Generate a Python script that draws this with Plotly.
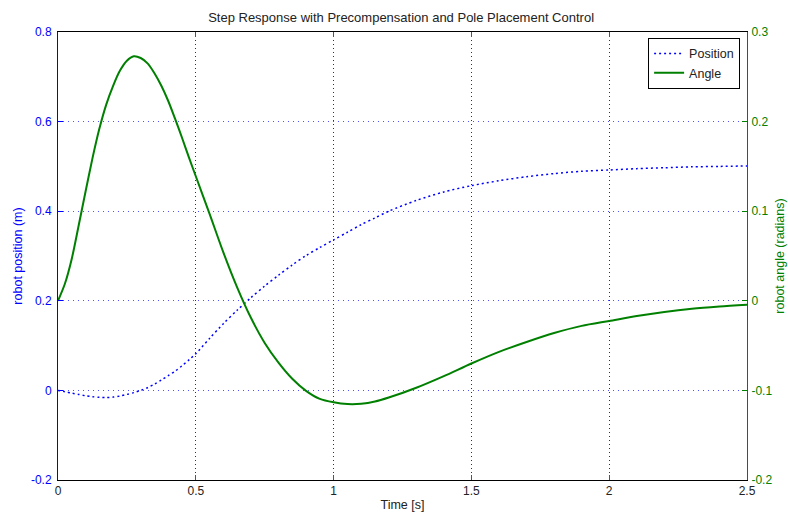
import plotly.graph_objects as go

# Time samples [s]
t = [0, 0.025, 0.05, 0.075, 0.1, 0.125, 0.15, 0.175, 0.2, 0.225, 0.25, 0.275, 0.3,
     0.325, 0.35, 0.375, 0.4, 0.425, 0.45, 0.475, 0.5, 0.55, 0.6, 0.65, 0.7, 0.75,
     0.8, 0.85, 0.9, 0.95, 1.0, 1.05, 1.1, 1.15, 1.2, 1.3, 1.4, 1.5, 1.6, 1.7, 1.8,
     1.9, 2.0, 2.1, 2.2, 2.3, 2.4, 2.5]

# Robot angle (radians), right axis
angle = [0, 0.019, 0.047, 0.084, 0.122, 0.159, 0.192, 0.219, 0.240, 0.257, 0.268,
         0.273, 0.271, 0.265, 0.254, 0.240, 0.223, 0.203, 0.182, 0.160, 0.139, 0.097,
         0.054, 0.015, -0.019, -0.047, -0.069, -0.087, -0.1005, -0.1095, -0.1133,
         -0.1153, -0.115, -0.1125, -0.108, -0.097, -0.084, -0.070, -0.057, -0.046,
         -0.036, -0.028, -0.0225, -0.017, -0.0125, -0.009, -0.0065, -0.0045]

# Robot position (m), left axis
position = [0, -0.003, -0.006, -0.009, -0.012, -0.014, -0.0155, -0.0158, -0.015,
            -0.0125, -0.009, -0.005, 0.0, 0.006, 0.014, 0.023, 0.033, 0.043, 0.055,
            0.068, 0.082, 0.116, 0.149, 0.179, 0.207, 0.233, 0.257, 0.280, 0.301,
            0.319, 0.336, 0.353, 0.370, 0.385, 0.400, 0.424, 0.443, 0.457, 0.468,
            0.477, 0.484, 0.489, 0.492, 0.495, 0.497, 0.499, 0.500, 0.501]

x_ticks = [0, 0.5, 1, 1.5, 2, 2.5]
x_ticktext = ["0", "0.5", "1", "1.5", "2", "2.5"]
y1_ticks = [-0.2, 0, 0.2, 0.4, 0.6, 0.8]
y1_ticktext = ["-0.2", "0", "0.2", "0.4", "0.6", "0.8"]
y2_ticks = [-0.2, -0.1, 0, 0.1, 0.2, 0.3]
y2_ticktext = ["-0.2", "-0.1", "0", "0.1", "0.2", "0.3"]

BLUE = "rgb(0,0,255)"
GREEN = "rgb(0,128,0)"
FONT = "Liberation Sans, Arial, sans-serif"

fig = go.Figure()
fig.add_trace(go.Scatter(x=t, y=position, name="Position", mode="lines",
                         line=dict(color=BLUE, width=1.5, dash="2px,3px", shape="spline",
                                   smoothing=0.8),
                         yaxis="y"))
fig.add_trace(go.Scatter(x=t, y=angle, name="Angle", mode="lines",
                         line=dict(color=GREEN, width=2, shape="spline", smoothing=0.8),
                         yaxis="y2"))

fig.update_layout(
    width=788, height=518,
    margin=dict(l=58, r=41, t=32, b=38, autoexpand=False),
    paper_bgcolor="white", plot_bgcolor="white",
    font=dict(family=FONT, size=12, color="black"),
    title=dict(text="Step Response with Precompensation and Pole Placement Control",
               x=0.509, xanchor="center", yref="container", y=0.967, yanchor="middle",
               font=dict(size=13, color="#222")),
    xaxis=dict(range=[0, 2.5], tickvals=x_ticks, ticktext=x_ticktext,
               showline=True, linecolor="black", linewidth=1, mirror="ticks",
               ticks="inside", ticklen=5, tickcolor="#555",
               showgrid=True, gridcolor="#333", griddash="1px,3px", gridwidth=1,
               zeroline=False, automargin=False,
               title=dict(text="Time [s]", standoff=2, font=dict(size=12.5, color="#222")),
               tickfont=dict(color="#222")),
    yaxis=dict(range=[-0.2, 0.8], tickvals=y1_ticks, ticktext=y1_ticktext,
               showline=True, linecolor=BLUE, linewidth=1,
               ticks="inside", ticklen=5, tickcolor=BLUE,
               showgrid=True, gridcolor="rgba(40,40,255,0.8)", griddash="1px,4px", gridwidth=1,
               zeroline=False, automargin=False, tickfont=dict(color=BLUE),
               ticklabelstandoff=3,
               title=dict(text="robot position (m)", standoff=5,
                          font=dict(size=12.5, color=BLUE))),
    yaxis2=dict(range=[-0.2, 0.3], tickvals=y2_ticks, ticktext=y2_ticktext,
                overlaying="y", side="right", anchor="x",
                showline=True, linecolor=GREEN, linewidth=1,
                ticks="inside", ticklen=5, tickcolor=GREEN,
                showgrid=False, zeroline=False, automargin=False,
                tickfont=dict(color=GREEN), ticklabelstandoff=1,
                title=dict(text="robot angle (radians)", standoff=3,
                           font=dict(size=12.5, color=GREEN))),
    legend=dict(x=0.99, y=0.987, xanchor="right", yanchor="top",
                bgcolor="white", bordercolor="black", borderwidth=1,
                font=dict(size=12.5, color="#222"), tracegroupgap=0),
    showlegend=True,
)

fig.write_html("out.html", config={"displayModeBar": False},
               post_script="document.body.style.margin='0';document.body.style.overflow='hidden';")
